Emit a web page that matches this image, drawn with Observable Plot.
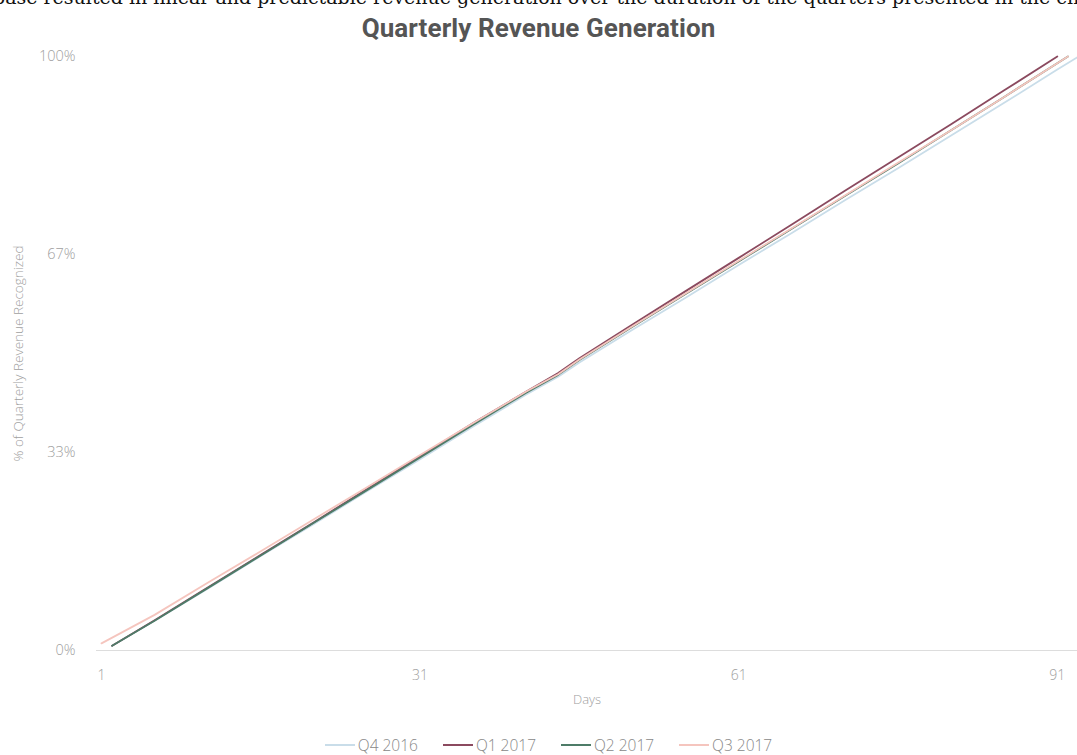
<!DOCTYPE html>
<html>
<head>
<meta charset="utf-8">
<script src="https://cdn.jsdelivr.net/npm/d3@7"></script>
<script src="https://cdn.jsdelivr.net/npm/@observablehq/plot@0.6"></script>
<style>
  html, body { margin: 0; padding: 0; background: #fff; overflow: hidden; }
  body { width: 1077px; height: 755px; position: relative; }
  #intro { position: absolute; top: -14px; left: -7px; white-space: nowrap; font-family: "DejaVu Serif", serif; font-size: 19px; color: #111; }
  #title { position: absolute; top: 13px; left: 0; width: 1077px; text-align: center; font-family: Roboto, sans-serif; font-weight: 700; font-size: 26px; letter-spacing: 0.1px; color: #555; }
  #chart { position: absolute; top: 45px; left: 0; }
  #legend { position: absolute; top: 734px; left: 10px; width: 1077px; display: flex; justify-content: center; gap: 25px; font-family: "Open Sans", sans-serif; font-weight: 300; font-size: 15.5px; color: #888; }
  #legend .item { display: flex; align-items: center; }
  #legend .sw { width: 30px; height: 2px; margin-right: 3px; }
</style>
</head>
<body>
<div id="intro">base resulted in linear and predictable revenue generation over the duration of the quarters presented in the chart.</div>
<div id="title">Quarterly Revenue Generation</div>
<div id="chart"></div>
<div id="legend"></div>
<script>
const seriesNames = ["Q4 2016", "Q1 2017", "Q2 2017", "Q3 2017"];
const seriesColors = ["#c9dde9", "#8b4a5f", "#4e7c68", "#f5c5be"];

const q4_2016_days = [2, 6, 11, 16, 21, 26, 31, 36, 41, 44, 46, 51, 56, 61, 66, 71, 76, 81, 86, 91, 93];
const q4_2016_vals = [0.008, 0.050, 0.104, 0.159, 0.213, 0.268, 0.322, 0.377, 0.431, 0.461, 0.485, 0.540, 0.594, 0.649, 0.703, 0.758, 0.812, 0.867, 0.922, 0.978, 1.000];

const q1_2017_days = [2, 6, 11, 16, 21, 26, 31, 36, 41, 44, 46, 51, 56, 61, 66, 71, 76, 81, 86, 91];
const q1_2017_vals = [0.008, 0.051, 0.106, 0.161, 0.216, 0.272, 0.327, 0.383, 0.436, 0.467, 0.492, 0.549, 0.605, 0.661, 0.717, 0.774, 0.830, 0.886, 0.943, 1.000];

const q2_2017_days = [2, 6, 11, 16, 21, 26, 31, 36, 41, 44, 46, 51, 56, 61, 66, 71, 76, 81, 86, 92];
const q2_2017_vals = [0.008, 0.050, 0.105, 0.160, 0.215, 0.270, 0.325, 0.380, 0.434, 0.464, 0.489, 0.545, 0.600, 0.655, 0.710, 0.765, 0.820, 0.876, 0.932, 1.000];

const q3_2017_days = [1, 6, 11, 16, 21, 26, 31, 36, 41, 44, 46, 51, 56, 61, 66, 71, 76, 81, 86, 92];
const q3_2017_vals = [0.012, 0.060, 0.114, 0.167, 0.221, 0.275, 0.329, 0.383, 0.436, 0.465, 0.490, 0.546, 0.601, 0.656, 0.711, 0.766, 0.821, 0.876, 0.932, 1.000];

const xTicks = [1, 31, 61, 91];
const yTicks = [0, 1/3, 2/3, 1];
const yTickLabels = ["0%", "33%", "67%", "100%"];

const allDays = [q4_2016_days, q1_2017_days, q2_2017_days, q3_2017_days];
const allVals = [q4_2016_vals, q1_2017_vals, q2_2017_vals, q3_2017_vals];
const data = [];
seriesNames.forEach((s, i) => {
  allDays[i].forEach((d, j) => data.push({series: s, day: d, value: allVals[i][j]}));
});

const chart = Plot.plot({
  width: 1077,
  height: 670,
  marginLeft: 96,
  marginRight: 0,
  marginTop: 11,
  marginBottom: 65,
  style: {fontFamily: "'Open Sans', sans-serif", fontSize: "14px", color: "#999", background: "#fff", overflow: "visible"},
  x: {domain: [0.53, 92.9]},
  y: {domain: [0, 1]},
  color: {domain: seriesNames, range: seriesColors},
  marks: [
    Plot.ruleY([0], {stroke: "#ddd", strokeWidth: 1.2}),
    Plot.axisX({ticks: xTicks, tickSize: 0, tickPadding: 20, tickFormat: d => String(d), label: null, fill: "#a0a0a0", fontWeight: 300, fontSize: 14}),
    Plot.axisY({ticks: yTicks, tickSize: 0, tickPadding: 21, tickFormat: (d, i) => yTickLabels[i], label: null, fill: "#a0a0a0", fontWeight: 300, fontSize: 14.5}),
    Plot.line(data, {x: "day", y: "value", z: "series", stroke: "series", strokeWidth: 1.8, curve: "linear"}),
    Plot.text(["Days"], {frameAnchor: "bottom", dy: 53, fill: "#a0a0a0", fontWeight: 300, fontSize: 13}),
    Plot.text(["% of Quarterly Revenue Recognized"], {frameAnchor: "left", textAnchor: "middle", dx: -78, rotate: -90, fill: "#a0a0a0", fontWeight: 300, fontSize: 13.5})
  ]
});
document.getElementById("chart").appendChild(chart);

const legend = document.getElementById("legend");
seriesNames.forEach((s, i) => {
  const item = document.createElement("div");
  item.className = "item";
  const sw = document.createElement("span");
  sw.className = "sw";
  sw.style.background = seriesColors[i];
  const lab = document.createElement("span");
  lab.textContent = s;
  item.appendChild(sw);
  item.appendChild(lab);
  legend.appendChild(item);
});
</script>
</body>
</html>
